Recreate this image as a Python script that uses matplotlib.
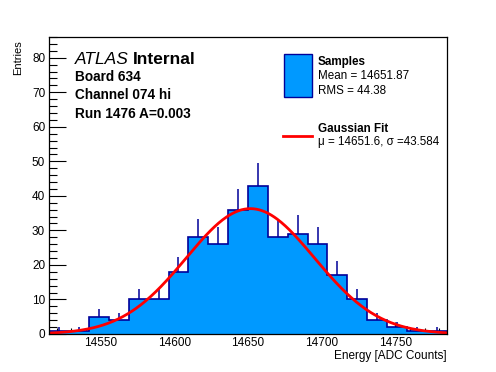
import numpy as np
import matplotlib
matplotlib.use("Agg")
import matplotlib.pyplot as plt
from matplotlib.ticker import MultipleLocator
from matplotlib.patches import Rectangle
from matplotlib.lines import Line2D

plt.rcParams['font.family'] = ['Liberation Sans', 'DejaVu Sans']

# ---- data ----
x_min = 14515.0
x_max = 14785.0
n_bins = 20
counts = [1, 1, 5, 4, 10, 10, 18, 28, 26, 36, 43, 28, 29, 26, 17, 10, 4, 2, 1, 1]
fit_mu = 14651.6
fit_sigma = 43.584
fit_amp = 36.3
mean_val = 14651.87
rms_val = 44.38
y_max = 86

W, H = 496, 372
fig = plt.figure(figsize=(W / 100, H / 100), dpi=100)
L, R, T, B = 49.3, 446.7, 37, 334
ax = fig.add_axes([L / W, 1 - B / H, (R - L) / W, (B - T) / H])

edges = np.linspace(x_min, x_max, n_bins + 1)
centers = 0.5 * (edges[:-1] + edges[1:])
counts_a = np.array(counts, dtype=float)

fill_c = '#0099ff'
line_c = '#000099'
ax.stairs(counts_a, edges, fill=True, color=fill_c, zorder=2)
ax.stairs(counts_a, edges, fill=False, color=line_c, lw=1.2, zorder=3)
nz = counts_a > 0
ax.vlines(centers[nz], counts_a[nz], counts_a[nz] + np.sqrt(counts_a[nz]),
          color=line_c, lw=1.1, zorder=3)

xf = np.linspace(x_min, x_max, 400)
yf = fit_amp * np.exp(-0.5 * ((xf - fit_mu) / fit_sigma) ** 2)
ax.plot(xf, yf, color='red', lw=2, zorder=4)

ax.set_xlim(x_min, x_max)
ax.set_ylim(0, y_max)
ax.xaxis.set_major_locator(MultipleLocator(50))
ax.xaxis.set_minor_locator(MultipleLocator(10))
ax.yaxis.set_major_locator(MultipleLocator(10))
ax.yaxis.set_minor_locator(MultipleLocator(2))
ax.tick_params(axis='x', which='major', direction='in', length=9, width=0.8,
               labelsize=8.5, pad=2.5, top=False)
ax.tick_params(axis='x', which='minor', direction='in', length=4.5, width=0.8, top=False)
ax.tick_params(axis='y', which='major', direction='in', length=12, width=0.8,
               labelsize=8.5, pad=3, right=False)
ax.tick_params(axis='y', which='minor', direction='in', length=6, width=0.8, right=False)
for s in ax.spines.values():
    s.set_linewidth(0.9)
    s.set_zorder(5)

fig.text(R / W, 1 - 359 / H, 'Energy [ADC Counts]', ha='right', va='baseline', fontsize=8.5)
fig.text(18.5 / W, 1 - 40 / H, 'Entries', rotation=90, ha='center', va='top', fontsize=8)

# ATLAS label
t1 = fig.text(75 / W, 1 - 64 / H, 'ATLAS', style='italic', fontsize=12.5, va='baseline')
fig.canvas.draw()
bb = t1.get_window_extent()
fig.text((bb.x1 + 4) / W, 1 - 64 / H, 'Internal', weight='bold', fontsize=12.5, va='baseline')
fig.text(75 / W, 1 - 81 / H, 'Board 634', weight='bold', fontsize=9.8, va='baseline')
fig.text(75 / W, 1 - 99 / H, 'Channel 074 hi', weight='bold', fontsize=9.8, va='baseline')
fig.text(75 / W, 1 - 117.5 / H, 'Run 1476 A=0.003', weight='bold', fontsize=9.8, va='baseline')

# legend
fig.patches.append(Rectangle((283.5 / W, 1 - 96.5 / H), 28 / W, 43 / H,
                             transform=fig.transFigure, facecolor=fill_c,
                             edgecolor=line_c, lw=1.0))
fig.text(317.5 / W, 1 - 65 / H, 'Samples', weight='bold', fontsize=8.4, va='baseline')
fig.text(317.5 / W, 1 - 79 / H, f'Mean = {mean_val:.2f}', fontsize=8.4, va='baseline')
fig.text(317.5 / W, 1 - 93.5 / H, f'RMS = {rms_val:.2f}', fontsize=8.4, va='baseline')
fig.lines.append(Line2D([283 / W, 311.5 / W], [1 - 135.5 / H, 1 - 135.5 / H],
                        transform=fig.transFigure, color='red', lw=2))
fig.text(317.5 / W, 1 - 132.5 / H, 'Gaussian Fit', weight='bold', fontsize=8.4, va='baseline')
fig.text(317.5 / W, 1 - 144.5 / H, f'\u03bc = {fit_mu}, \u03c3 ={fit_sigma}', fontsize=8.4, va='baseline')

fig.savefig('out.png', dpi=100)
